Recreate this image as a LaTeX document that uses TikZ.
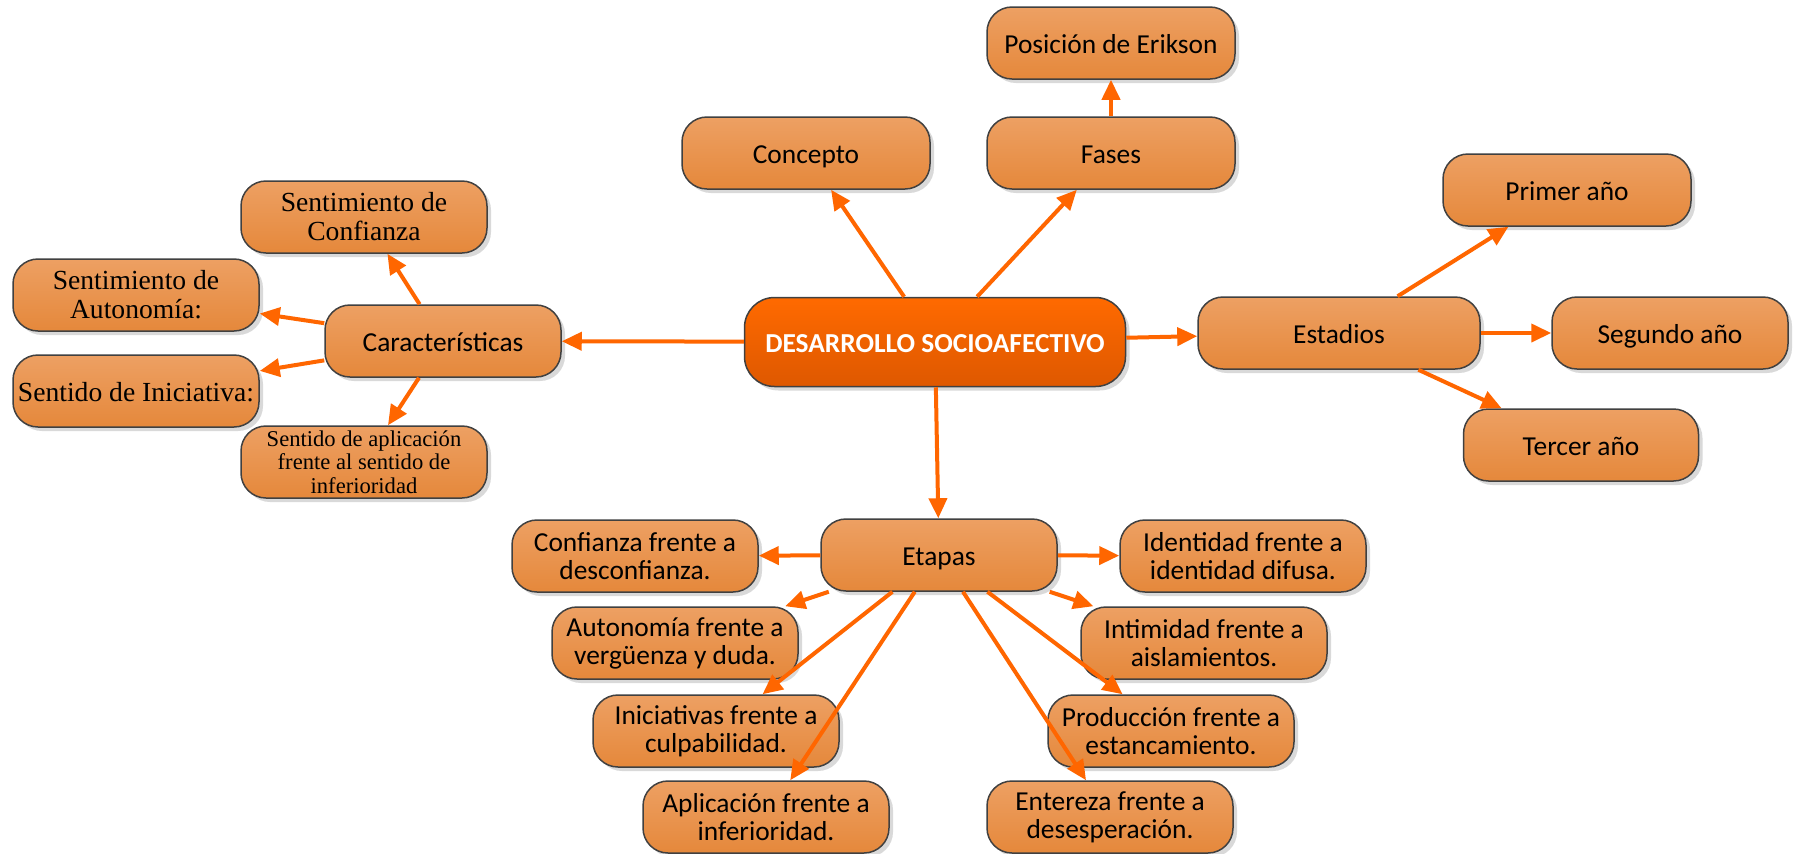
\documentclass[tikz,border=0pt]{standalone}
\usepackage{fontspec}
\setmainfont{Carlito}
\newfontfamily\tnr{Liberation Serif}
\usetikzlibrary{arrows.meta,shadows}
\definecolor{boxtop}{HTML}{EDA063}
\definecolor{boxbot}{HTML}{E5883B}
\definecolor{maintop}{HTML}{FF6A00}
\definecolor{mainbot}{HTML}{DE5800}
\definecolor{arrowc}{HTML}{FF6600}
\definecolor{edgec}{HTML}{404040}
\tikzset{
  box/.style={draw=edgec, line width=0.75pt, rounded corners=12.5pt,
    top color=boxtop, bottom color=boxbot, align=center, inner sep=2pt,
    minimum width=123pt, minimum height=36pt,
    font=\fontsize{13.7}{14}\selectfont,
    drop shadow={shadow xshift=2pt, shadow yshift=-2pt, fill=black, opacity=0.15}},
  oneline/.style={text height=10pt, text depth=0pt},
  serifbox/.style={box, font=\tnr\fontsize{13.8}{14.5}\selectfont},
  mainbox/.style={box, rounded corners=15pt, top color=maintop, bottom color=mainbot,
    text=white, font=\bfseries\fontsize{13.7}{14}\selectfont,
    minimum width=190.5pt, minimum height=44.5pt},
  arr/.style={draw=arrowc, line width=2pt, -{Triangle[length=10pt,width=9pt]}},
}
\begin{document}
\begin{tikzpicture}[x=0.5pt,y=-0.5pt]
\useasboundingbox[fill=white] (0,0) rectangle (1795,853);

% central
\node[mainbox, oneline] (main) at (935,342) {DESARROLLO SOCIOAFECTIVO};

% top
\node[box, oneline, minimum width=124pt] (concepto) at (806,153) {Concepto};
\node[box, oneline, minimum width=124pt] (fases) at (1111,153) {Fases};
\node[box, oneline, minimum width=124pt] (erikson) at (1111,43) {Posición de Erikson};

% left
\node[box, oneline, minimum width=118pt] (carac) at (443,341) {Características};
\node[serifbox] (sconf) at (364,217) {Sentimiento de\\Confianza};
\node[serifbox] (sauto) at (136,295) {Sentimiento de\\Autonomía:};
\node[serifbox, oneline] (sinic) at (136,391) {Sentido de Iniciativa:};
\node[serifbox, font=\tnr\fontsize{11.3}{11.8}\selectfont] (sapli) at (364,462) {Sentido de aplicación\\frente al sentido de\\inferioridad};

% right
\node[box, oneline, minimum width=141pt] (estadios) at (1339,333) {Estadios};
\node[box, oneline, minimum width=124pt] (primer) at (1567,190) {Primer año};
\node[box, oneline, minimum width=118pt] (segundo) at (1670,333) {Segundo año};
\node[box, oneline, minimum width=117.5pt] (tercer) at (1581,445) {Tercer año};

% bottom
\node[box, oneline, minimum width=118pt] (etapas) at (939,555) {Etapas};
\node[box] (e1) at (635,556) {Confianza frente a\\desconfianza.};
\node[box] (e2) at (675,643) {Autonomía frente a\\vergüenza y duda.};
\node[box] (e3) at (716,731) {Iniciativas frente a\\culpabilidad.};
\node[box] (e4) at (766,817) {Aplicación frente a\\inferioridad.};
\node[box] (e5) at (1243,556) {Identidad frente a\\identidad difusa.};
\node[box] (e6) at (1204,643) {Intimidad frente a\\aislamientos.};
\node[box] (e7) at (1171,731) {Producción frente a\\estancamiento.};
\node[box] (e8) at (1110,817) {Entereza frente a\\desesperación.};

% connectors
\draw[arr] (main) -- (concepto);
\draw[arr] (main) -- (fases);
\draw[arr] (fases) -- (erikson);
\draw[arr] (main) -- (carac);
\draw[arr] (main) -- (estadios);
\draw[arr] (main) -- (etapas);

\draw[arr] (carac) -- (sconf);
\draw[arr] (carac) -- (sauto);
\draw[arr] (carac) -- (sinic);
\draw[arr] (carac) -- (sapli);

\draw[arr] (estadios) -- (primer);
\draw[arr] (estadios) -- (segundo);
\draw[arr] (estadios) -- (tercer);

\draw[arr] (etapas) -- (e1);
\draw[arr] (etapas) -- (e2);
\draw[arr] (etapas) -- (e3);
\draw[arr] (etapas) -- (e4);
\draw[arr] (etapas) -- (e5);
\draw[arr] (etapas) -- (e6);
\draw[arr] (etapas) -- (e7);
\draw[arr] (etapas) -- (e8);
\end{tikzpicture}
\end{document}
